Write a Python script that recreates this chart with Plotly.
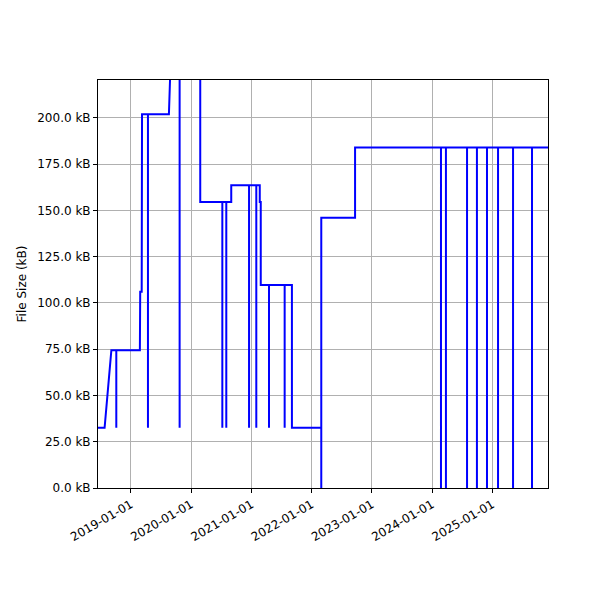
import plotly.graph_objects as go

# (date, size in kB) samples; repeated dates make the spikes
dates = ['2018-06-15', '2018-07-25', '2018-09-04',
         '2018-10-04', '2018-10-04', '2018-10-04',
         '2019-02-24', '2019-02-26', '2019-03-07', '2019-03-09',
         '2019-04-14', '2019-04-14', '2019-04-14',
         '2019-08-19', '2019-09-02',
         '2019-10-23', '2019-10-23', '2019-10-23',
         '2020-02-25', '2020-02-25',
         '2020-07-08', '2020-07-08', '2020-07-08',
         '2020-08-01', '2020-08-01', '2020-08-01',
         '2020-08-31', '2020-08-31',
         '2020-12-17', '2020-12-17', '2020-12-17',
         '2021-01-30', '2021-01-30', '2021-01-30',
         '2021-02-20', '2021-02-20', '2021-02-26', '2021-02-26',
         '2021-04-17', '2021-04-17', '2021-04-17',
         '2021-07-21', '2021-07-21', '2021-07-21',
         '2021-09-03', '2021-09-03',
         '2022-02-28', '2022-02-28', '2022-02-28',
         '2022-09-21', '2022-09-21',
         '2024-02-24', '2024-02-24', '2024-02-24',
         '2024-03-25', '2024-03-25', '2024-03-25',
         '2024-07-31', '2024-07-31', '2024-07-31',
         '2024-09-29', '2024-09-29', '2024-09-29',
         '2024-11-29', '2024-11-29', '2024-11-29',
         '2025-02-04', '2025-02-04', '2025-02-04',
         '2025-05-06', '2025-05-06', '2025-05-06',
         '2025-08-29', '2025-08-29', '2025-08-29',
         '2025-12-04']
sizes_kb = [32.5, 32.5, 74.5,
            74.5, 32.5, 74.5,
            74.5, 106.0, 106.0, 202.0,
            202.0, 32.5, 202.0,
            202.0, 240.0,
            240.0, 32.5, 240.0,
            240.0, 154.5,
            154.5, 32.5, 154.5,
            154.5, 32.5, 154.5,
            154.5, 163.6,
            163.6, 32.5, 163.6,
            163.6, 32.5, 163.6,
            163.6, 154.5, 154.5, 109.7,
            109.7, 32.5, 109.7,
            109.7, 32.5, 109.7,
            109.7, 32.5,
            32.5, 0.0, 146.0,
            146.0, 184.0,
            184.0, 0.0, 184.0,
            184.0, 0.0, 184.0,
            184.0, 0.0, 184.0,
            184.0, 0.0, 184.0,
            184.0, 0.0, 184.0,
            184.0, 0.0, 184.0,
            184.0, 0.0, 184.0,
            184.0, 0.0, 184.0,
            184.0]
y_ticks = [0, 25, 50, 75, 100, 125, 150, 175, 200]
x_ticks = ['2019-01-01', '2020-01-01', '2021-01-01', '2022-01-01',
           '2023-01-01', '2024-01-01', '2025-01-01']

fig = go.Figure(go.Scatter(x=dates, y=sizes_kb, mode='lines',
                           line=dict(color='blue', width=2)))

axis_style = dict(showline=True, linecolor='black', linewidth=1, mirror=True,
                  showgrid=True, gridcolor='#b0b0b0', gridwidth=1,
                  ticks='outside', ticklen=4, tickcolor='black', zeroline=False,
                  automargin=False,
                  tickfont=dict(family='DejaVu Sans', size=12, color='black'))
fig.update_xaxes(**axis_style, range=['2018-06-15', '2025-12-04'],
                 tickvals=x_ticks, ticktext=x_ticks, tickangle=-30)
fig.update_yaxes(**axis_style, range=[0, 220.5], tickvals=y_ticks,
                 ticktext=[f'{v:.1f} kB' for v in y_ticks],
                 title=dict(text='File Size (kB)', standoff=8,
                            font=dict(family='DejaVu Sans', size=12, color='black')))
fig.update_layout(width=600, height=600, plot_bgcolor='white', paper_bgcolor='white',
                  showlegend=False, margin=dict(l=90, r=60, t=72, b=120))
fig.write_html("out.html")
